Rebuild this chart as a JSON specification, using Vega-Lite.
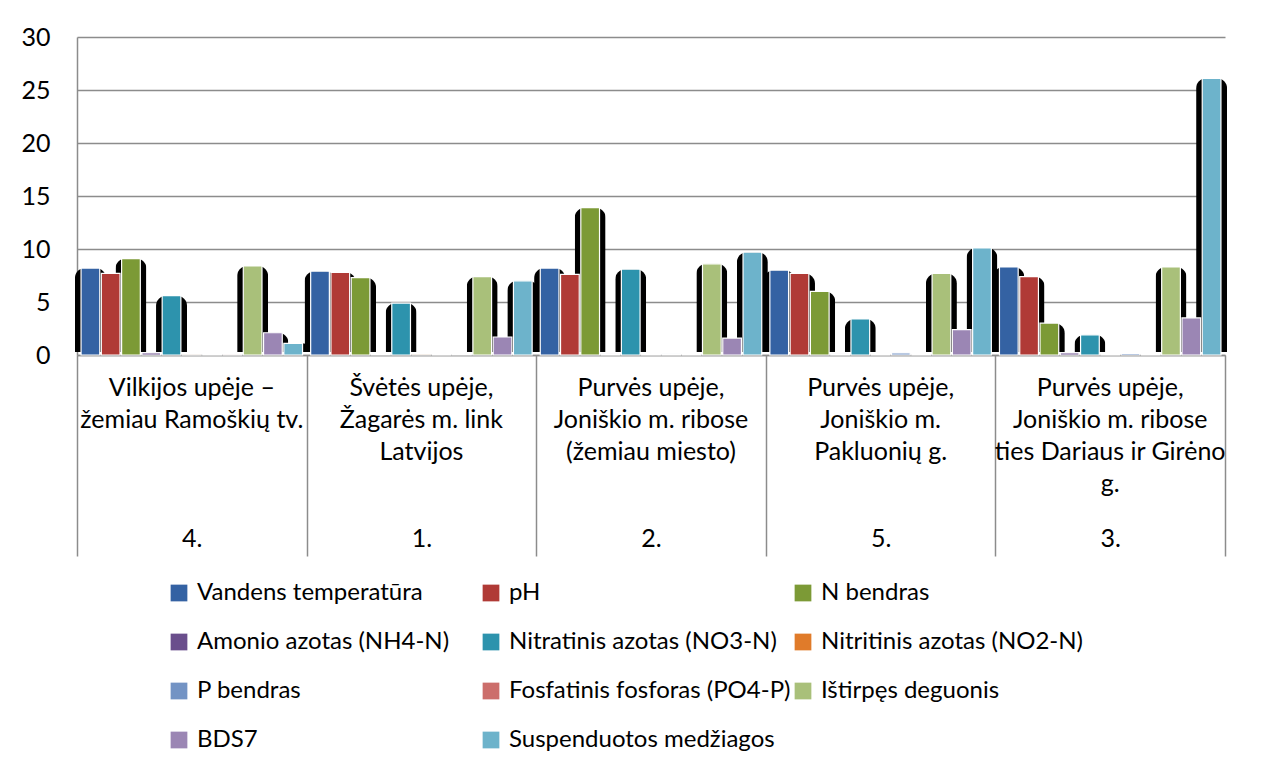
{
  "$schema": "https://vega.github.io/schema/vega-lite/v6.json",
  "width": 1148,
  "height": 318,
  "autosize": {"type": "none"},
  "padding": {"left": 77, "top": 37, "right": 37, "bottom": 414},
  "background": "white",
  "config": {
    "view": {"stroke": null},
    "font": "Lato",
    "axis": {"labelColor": "black", "labelFont": "Lato", "titleFont": "Lato"},
    "axisY": {
      "title": null, "values": [0, 5, 10, 15, 20, 25, 30],
      "labelFontSize": 25, "labelColor": "black", "labelPadding": 27,
      "ticks": false, "domainColor": "#8c8c8c", "domainWidth": 1.5,
      "grid": true, "gridColor": "#8c8c8c", "gridWidth": 1.5
    },
    "legend": {"labelFont": "Lato"}
  },
  "data": {
    "values": [
      {"stotis": "4.|Vilkijos upėje –|žemiau Ramoškių tv.", "parametras": "Vandens temperatūra", "reiksme": 8.2},
      {"stotis": "4.|Vilkijos upėje –|žemiau Ramoškių tv.", "parametras": "pH", "reiksme": 7.7},
      {"stotis": "4.|Vilkijos upėje –|žemiau Ramoškių tv.", "parametras": "N bendras", "reiksme": 9.1},
      {"stotis": "4.|Vilkijos upėje –|žemiau Ramoškių tv.", "parametras": "Amonio azotas (NH4-N)", "reiksme": 0.2},
      {"stotis": "4.|Vilkijos upėje –|žemiau Ramoškių tv.", "parametras": "Nitratinis azotas (NO3-N)", "reiksme": 5.6},
      {"stotis": "4.|Vilkijos upėje –|žemiau Ramoškių tv.", "parametras": "Nitritinis azotas (NO2-N)", "reiksme": 0.02},
      {"stotis": "4.|Vilkijos upėje –|žemiau Ramoškių tv.", "parametras": "P bendras", "reiksme": 0.05},
      {"stotis": "4.|Vilkijos upėje –|žemiau Ramoškių tv.", "parametras": "Fosfatinis fosforas (PO4-P)", "reiksme": 0.03},
      {"stotis": "4.|Vilkijos upėje –|žemiau Ramoškių tv.", "parametras": "Ištirpęs deguonis", "reiksme": 8.4},
      {"stotis": "4.|Vilkijos upėje –|žemiau Ramoškių tv.", "parametras": "BDS7", "reiksme": 2.1},
      {"stotis": "4.|Vilkijos upėje –|žemiau Ramoškių tv.", "parametras": "Suspenduotos medžiagos", "reiksme": 1.1},

      {"stotis": "1.|Švėtės upėje,|Žagarės m. link|Latvijos", "parametras": "Vandens temperatūra", "reiksme": 7.9},
      {"stotis": "1.|Švėtės upėje,|Žagarės m. link|Latvijos", "parametras": "pH", "reiksme": 7.8},
      {"stotis": "1.|Švėtės upėje,|Žagarės m. link|Latvijos", "parametras": "N bendras", "reiksme": 7.3},
      {"stotis": "1.|Švėtės upėje,|Žagarės m. link|Latvijos", "parametras": "Amonio azotas (NH4-N)", "reiksme": 0.08},
      {"stotis": "1.|Švėtės upėje,|Žagarės m. link|Latvijos", "parametras": "Nitratinis azotas (NO3-N)", "reiksme": 4.9},
      {"stotis": "1.|Švėtės upėje,|Žagarės m. link|Latvijos", "parametras": "Nitritinis azotas (NO2-N)", "reiksme": 0.02},
      {"stotis": "1.|Švėtės upėje,|Žagarės m. link|Latvijos", "parametras": "P bendras", "reiksme": 0.06},
      {"stotis": "1.|Švėtės upėje,|Žagarės m. link|Latvijos", "parametras": "Fosfatinis fosforas (PO4-P)", "reiksme": 0.03},
      {"stotis": "1.|Švėtės upėje,|Žagarės m. link|Latvijos", "parametras": "Ištirpęs deguonis", "reiksme": 7.4},
      {"stotis": "1.|Švėtės upėje,|Žagarės m. link|Latvijos", "parametras": "BDS7", "reiksme": 1.7},
      {"stotis": "1.|Švėtės upėje,|Žagarės m. link|Latvijos", "parametras": "Suspenduotos medžiagos", "reiksme": 7.0},

      {"stotis": "2.|Purvės upėje,|Joniškio m. ribose|(žemiau miesto)", "parametras": "Vandens temperatūra", "reiksme": 8.2},
      {"stotis": "2.|Purvės upėje,|Joniškio m. ribose|(žemiau miesto)", "parametras": "pH", "reiksme": 7.6},
      {"stotis": "2.|Purvės upėje,|Joniškio m. ribose|(žemiau miesto)", "parametras": "N bendras", "reiksme": 13.9},
      {"stotis": "2.|Purvės upėje,|Joniškio m. ribose|(žemiau miesto)", "parametras": "Amonio azotas (NH4-N)", "reiksme": 0.1},
      {"stotis": "2.|Purvės upėje,|Joniškio m. ribose|(žemiau miesto)", "parametras": "Nitratinis azotas (NO3-N)", "reiksme": 8.1},
      {"stotis": "2.|Purvės upėje,|Joniškio m. ribose|(žemiau miesto)", "parametras": "Nitritinis azotas (NO2-N)", "reiksme": 0.05},
      {"stotis": "2.|Purvės upėje,|Joniškio m. ribose|(žemiau miesto)", "parametras": "P bendras", "reiksme": 0.1},
      {"stotis": "2.|Purvės upėje,|Joniškio m. ribose|(žemiau miesto)", "parametras": "Fosfatinis fosforas (PO4-P)", "reiksme": 0.05},
      {"stotis": "2.|Purvės upėje,|Joniškio m. ribose|(žemiau miesto)", "parametras": "Ištirpęs deguonis", "reiksme": 8.6},
      {"stotis": "2.|Purvės upėje,|Joniškio m. ribose|(žemiau miesto)", "parametras": "BDS7", "reiksme": 1.6},
      {"stotis": "2.|Purvės upėje,|Joniškio m. ribose|(žemiau miesto)", "parametras": "Suspenduotos medžiagos", "reiksme": 9.7},

      {"stotis": "5.|Purvės upėje,|Joniškio m.|Pakluonių g.", "parametras": "Vandens temperatūra", "reiksme": 8.0},
      {"stotis": "5.|Purvės upėje,|Joniškio m.|Pakluonių g.", "parametras": "pH", "reiksme": 7.7},
      {"stotis": "5.|Purvės upėje,|Joniškio m.|Pakluonių g.", "parametras": "N bendras", "reiksme": 6.0},
      {"stotis": "5.|Purvės upėje,|Joniškio m.|Pakluonių g.", "parametras": "Amonio azotas (NH4-N)", "reiksme": 0.1},
      {"stotis": "5.|Purvės upėje,|Joniškio m.|Pakluonių g.", "parametras": "Nitratinis azotas (NO3-N)", "reiksme": 3.4},
      {"stotis": "5.|Purvės upėje,|Joniškio m.|Pakluonių g.", "parametras": "Nitritinis azotas (NO2-N)", "reiksme": 0.05},
      {"stotis": "5.|Purvės upėje,|Joniškio m.|Pakluonių g.", "parametras": "P bendras", "reiksme": 0.2},
      {"stotis": "5.|Purvės upėje,|Joniškio m.|Pakluonių g.", "parametras": "Fosfatinis fosforas (PO4-P)", "reiksme": 0.05},
      {"stotis": "5.|Purvės upėje,|Joniškio m.|Pakluonių g.", "parametras": "Ištirpęs deguonis", "reiksme": 7.7},
      {"stotis": "5.|Purvės upėje,|Joniškio m.|Pakluonių g.", "parametras": "BDS7", "reiksme": 2.4},
      {"stotis": "5.|Purvės upėje,|Joniškio m.|Pakluonių g.", "parametras": "Suspenduotos medžiagos", "reiksme": 10.1},

      {"stotis": "3.|Purvės upėje,|Joniškio m. ribose|ties Dariaus ir Girėno|g.", "parametras": "Vandens temperatūra", "reiksme": 8.3},
      {"stotis": "3.|Purvės upėje,|Joniškio m. ribose|ties Dariaus ir Girėno|g.", "parametras": "pH", "reiksme": 7.4},
      {"stotis": "3.|Purvės upėje,|Joniškio m. ribose|ties Dariaus ir Girėno|g.", "parametras": "N bendras", "reiksme": 3.0},
      {"stotis": "3.|Purvės upėje,|Joniškio m. ribose|ties Dariaus ir Girėno|g.", "parametras": "Amonio azotas (NH4-N)", "reiksme": 0.2},
      {"stotis": "3.|Purvės upėje,|Joniškio m. ribose|ties Dariaus ir Girėno|g.", "parametras": "Nitratinis azotas (NO3-N)", "reiksme": 1.9},
      {"stotis": "3.|Purvės upėje,|Joniškio m. ribose|ties Dariaus ir Girėno|g.", "parametras": "Nitritinis azotas (NO2-N)", "reiksme": 0.05},
      {"stotis": "3.|Purvės upėje,|Joniškio m. ribose|ties Dariaus ir Girėno|g.", "parametras": "P bendras", "reiksme": 0.15},
      {"stotis": "3.|Purvės upėje,|Joniškio m. ribose|ties Dariaus ir Girėno|g.", "parametras": "Fosfatinis fosforas (PO4-P)", "reiksme": 0.05},
      {"stotis": "3.|Purvės upėje,|Joniškio m. ribose|ties Dariaus ir Girėno|g.", "parametras": "Ištirpęs deguonis", "reiksme": 8.3},
      {"stotis": "3.|Purvės upėje,|Joniškio m. ribose|ties Dariaus ir Girėno|g.", "parametras": "BDS7", "reiksme": 3.5},
      {"stotis": "3.|Purvės upėje,|Joniškio m. ribose|ties Dariaus ir Girėno|g.", "parametras": "Suspenduotos medžiagos", "reiksme": 26.1}
    ]
  },
  "layer": [
    {
      "mark": {"type": "bar", "color": "black", "width": 31, "xOffset": 1, "yOffset": -3, "cornerRadiusTopLeft": 10, "cornerRadiusTopRight": 10},
      "encoding": {
        "x": {
          "field": "stotis", "type": "nominal", "sort": null,
          "scale": {"paddingInner": 0, "paddingOuter": 0},
          "axis": {
            "orient": "bottom", "title": null, "domain": false,
            "labelExpr": "split(datum.label, '|')[0]",
            "labelAngle": 0, "labelFontSize": 25, "labelColor": "black",
            "labelLimit": 400, "labelOverlap": false,
            "tickBand": "extent", "tickSize": 201, "tickColor": "#8c8c8c", "tickWidth": 1.5,
            "labelPadding": -30, "grid": false
          }
        },
        "xOffset": {
          "field": "parametras", "type": "nominal",
          "sort": ["Vandens temperatūra", "pH", "N bendras", "Amonio azotas (NH4-N)", "Nitratinis azotas (NO3-N)", "Nitritinis azotas (NO2-N)", "P bendras", "Fosfatinis fosforas (PO4-P)", "Ištirpęs deguonis", "BDS7", "Suspenduotos medžiagos"],
          "scale": {"paddingInner": 0.077, "paddingOuter": 0.2}
        },
        "y": {"field": "reiksme", "type": "quantitative", "scale": {"domain": [0, 30], "nice": false}}
      }
    },
    {
      "mark": {"type": "bar", "stroke": "white", "strokeWidth": 1.2},
      "encoding": {
        "x": {
          "field": "stotis", "type": "nominal", "sort": null,
          "axis": {
            "orient": "bottom", "title": null,
            "labelExpr": "slice(split(datum.label, '|'), 1)",
            "labelAngle": 0, "labelFontSize": 25, "labelLineHeight": 32, "labelColor": "black",
            "labelLimit": 400, "labelOverlap": false,
            "ticks": false, "labelPadding": 20,
            "domainColor": "#8c8c8c", "domainWidth": 1.5, "grid": false
          }
        },
        "xOffset": {
          "field": "parametras", "type": "nominal",
          "sort": ["Vandens temperatūra", "pH", "N bendras", "Amonio azotas (NH4-N)", "Nitratinis azotas (NO3-N)", "Nitritinis azotas (NO2-N)", "P bendras", "Fosfatinis fosforas (PO4-P)", "Ištirpęs deguonis", "BDS7", "Suspenduotos medžiagos"]
        },
        "y": {"field": "reiksme", "type": "quantitative"},
        "color": {
          "field": "parametras", "type": "nominal",
          "sort": ["Vandens temperatūra", "pH", "N bendras", "Amonio azotas (NH4-N)", "Nitratinis azotas (NO3-N)", "Nitritinis azotas (NO2-N)", "P bendras", "Fosfatinis fosforas (PO4-P)", "Ištirpęs deguonis", "BDS7", "Suspenduotos medžiagos"],
          "scale": {
            "domain": ["Vandens temperatūra", "pH", "N bendras", "Amonio azotas (NH4-N)", "Nitratinis azotas (NO3-N)", "Nitritinis azotas (NO2-N)", "P bendras", "Fosfatinis fosforas (PO4-P)", "Ištirpęs deguonis", "BDS7", "Suspenduotos medžiagos"],
            "range": ["#3462a3", "#b03a36", "#7c9a36", "#6a4e8c", "#2d93ad", "#e07b2a", "#7393c4", "#cc6e6b", "#a9c07a", "#9b86b4", "#6db3cb"]
          },
          "legend": {
            "orient": "none", "legendX": 90, "legendY": 544, "direction": "horizontal",
            "title": null, "columns": 3, "gridAlign": "all",
            "columnPadding": 0, "rowPadding": 25,
            "symbolType": "square", "symbolSize": 280, "symbolStrokeWidth": 0,
            "labelFontSize": 24, "labelColor": "black", "labelOffset": 6, "labelLimit": 400
          }
        }
      }
    }
  ],
  "resolve": {"axis": {"x": "independent"}}
}
